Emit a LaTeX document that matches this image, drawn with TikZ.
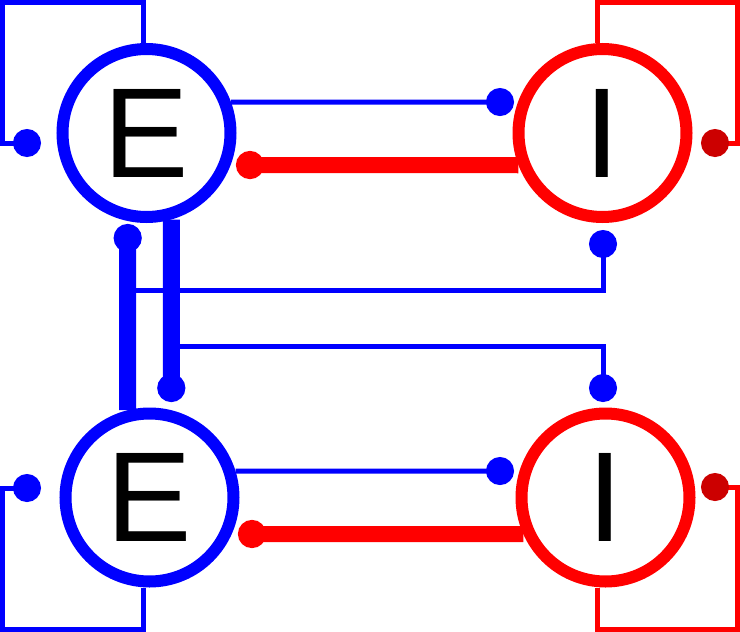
\documentclass[tikz,border=0pt]{standalone}
\usepackage{fontspec}
\setmainfont{Liberation Sans}
\usepackage{xcolor}
\usepackage{tikz}
\usetikzlibrary{arrows.meta,positioning,calc}
\definecolor{netexc}{HTML}{0000FF}
\definecolor{netinh}{HTML}{FF0000}
\definecolor{netinhdot}{HTML}{CC0000}

\begin{document}
\begin{tikzpicture}[x=1pt, y=-1pt, node distance=276pt,
  cell/.style={circle, line width=12pt, minimum size=168pt, inner sep=0pt, font=\fontsize{128}{128}\selectfont},
  ecell/.style={cell, draw=netexc},
  icell/.style={cell, draw=netinh},
  syn/.style={line width=5pt, -{Circle[length=28pt]}},
  exs/.style={syn, netexc}, exw/.style={exs, line width=17pt},
  ihs/.style={syn, netinh}, ihw/.style={ihs, line width=16pt},
  ihd/.style={ihs, -{Circle[length=28pt, color=netinhdot, fill=netinhdot]}}]
  \useasboundingbox (0,0) rectangle (740,632);
  \node[ecell] (e1) at (146.5,133) {E};
  \node[icell, right=of e1] (i1) {I};
  \node[ecell] (e2) at (149.5,497.5) {E};
  \node[icell, right=of e2] (i2) {I};
  \coordinate (e1s) at (41,143);
  \coordinate (i1s) at (701,143);
  \coordinate (e2s) at (41,488);
  \coordinate (i2s) at (701,487);
  \coordinate (e1i1) at (514,102);
  \coordinate (i1e1) at (236,165);
  \coordinate (e2i2) at (514,471);
  \coordinate (i2e2) at (238,534);
  \coordinate (e2e1) at (127.7,224);
  \coordinate (e1e2) at (171.3,402);
  \coordinate (b1) at (127.7,290.5);
  \coordinate (b2) at (171.3,346.5);
  \coordinate (e2i1) at (603,230);
  \coordinate (e1i2) at (603,402);
  \draw[exs] ([xshift=-3.5pt]e1.north) -- ++(0,-40.5) -- ++(-140.5,0) |- (e1s);
  \draw[ihd] ([xshift=-5pt]i1.north) -- ++(0,-40.5) -- ++(140,0) |- (i1s);
  \draw[exs] ([xshift=-6.5pt]e2.south) -- ++(0,42) -- ++(-140.5,0) |- (e2s);
  \draw[ihd] ([xshift=-8.5pt]i2.south) -- ++(0,42) -- ++(140.5,0) |- (i2s);
  \draw[exs] (e1.20) -- (e1i1);
  \draw[ihw] (i1.201) -- (i1e1);
  \draw[exs] (e2.17) -- (e2i2);
  \draw[ihw] (i2.204) -- (i2e2);
  \draw[exw] (e2.104) -- (e2e1);
  \draw[exw] (e1.286) -- (e1e2);
  \draw[exs] (b1) -| (e2i1);
  \draw[exs] (b2) -| (e1i2);
\end{tikzpicture}
\end{document}
